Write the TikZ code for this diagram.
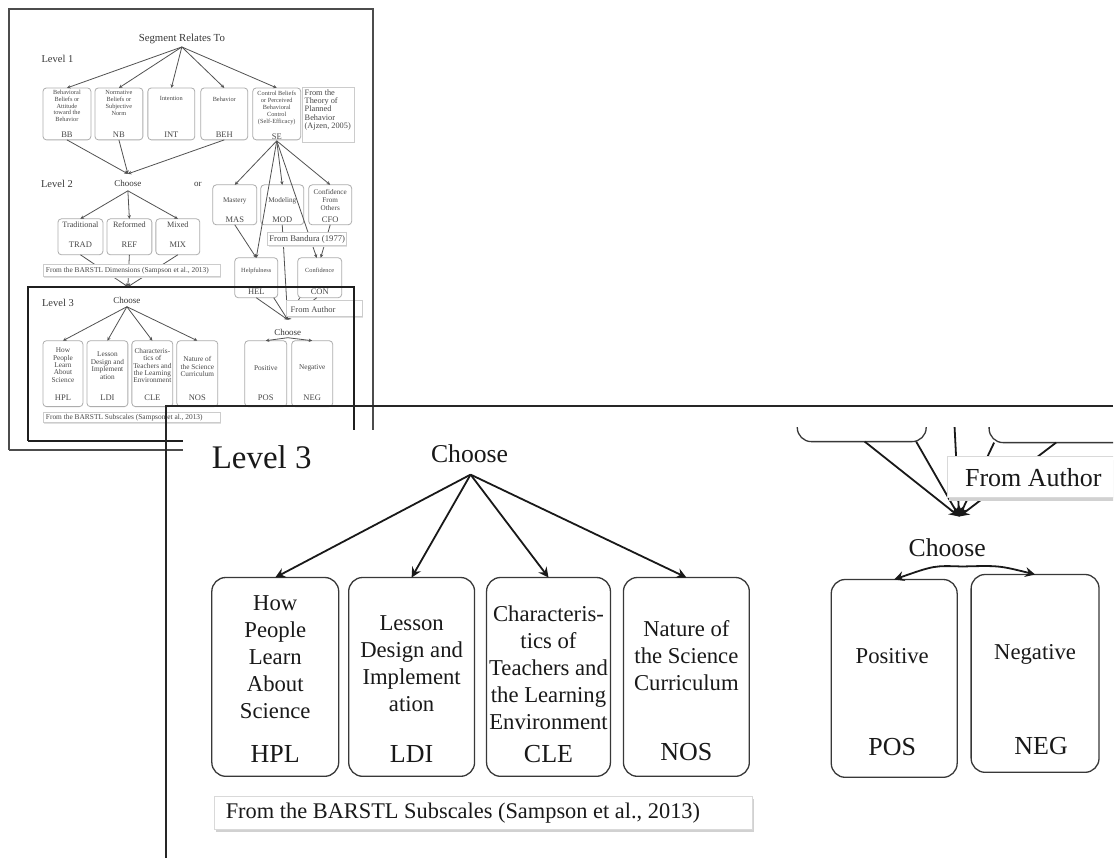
\documentclass[tikz,border=0pt]{standalone}
\usepackage{fontspec}
\setmainfont{Liberation Serif}
\usetikzlibrary{arrows.meta,calc,shadows}
\newcommand\setfs[2]{\fontsize{#1}{#2}\selectfont}

\begin{document}
\begin{tikzpicture}[x=1pt,y=-1pt,
  every node/.style={inner sep=0pt,outer sep=0pt},
  % thumbnail of the full page
  sbox/.style={draw=black!32,line width=0.8pt,rounded corners=3.5pt},
  stxt/.style={text=black!72,align=center,font=\setfs{6.3}{6.9}},
  smid/.style={text=black!72,align=center,font=\setfs{8.2}{8.5}},
  ssml/.style={text=black!72,align=center,font=\setfs{7.2}{8.2}},
  slow/.style={text=black!72,align=center,font=\setfs{7.3}{7.4}},
  scode/.style={text=black!72,font=\setfs{8.5}{9}},
  shead/.style={text=black!78,font=\setfs{9}{10}},
  slevel/.style={text=black!78,font=\setfs{10.5}{11}},
  scap/.style={draw=black!20,line width=0.6pt,fill=white,
    general shadow={fill=black!12,shadow xshift=0.8pt,shadow yshift=-1.2pt}},
  scaptxt/.style={text=black!72,font=\setfs{7.4}{8}},
  sarr/.style={draw=black!68,line width=0.8pt,-{Stealth[length=3.6pt,width=3.4pt]}},
  % magnified panel
  bbox/.style={draw=black!78,line width=1.3pt,rounded corners=14pt},
  btxt/.style={text=black!90,align=center,font=\setfs{22.7}{27}},
  bcode/.style={text=black!90,font=\setfs{26}{30}},
  bhead/.style={text=black!90,font=\setfs{25.7}{30}},
  bcap/.style={draw=black!15,line width=0.8pt,fill=white,
    general shadow={fill=black!18,shadow xshift=1.5pt,shadow yshift=-3pt}},
  bcaptxt/.style={text=black!90,font=\setfs{22.4}{26}},
  barr/.style={draw=black!90,line width=1.8pt,-{Stealth[length=10pt,width=10pt,inset=3.5pt]}},
  frame/.style={draw=black!70,line width=2pt},
]
\fill[white] (0,0) rectangle (1114,859);

%% ================= thumbnail: Level 1 =================
\node[font=\setfs{10.8}{12},text=black!78] (seg) at (182,39) {Segment Relates To};
\coordinate (segout) at (182,47);
\node[slevel] (lv1) at (57.5,59) {Level 1};

\node[sbox,minimum width=48pt,minimum height=52pt] (bb) at (67,114) {};
\node[sbox,minimum width=48pt,minimum height=52pt] (nb) at (119,114) {};
\node[sbox,minimum width=47pt,minimum height=52pt] (int) at (171.5,114) {};
\node[sbox,minimum width=47pt,minimum height=52pt] (beh) at (224.5,114) {};
\node[sbox,minimum width=48pt,minimum height=52pt] (se) at (277,114) {};

\node[stxt] (bbt) at (67,106) {Behavioral\\Beliefs or\\Attitude\\toward the\\Behavior};
\node[scode] (bbc) at (67,135) {BB};
\node[stxt] (nbt) at (119,103) {Normative\\Beliefs or\\Subjective\\Norm};
\node[scode] (nbc) at (119,135) {NB};
\node[stxt] (intt) at (171.5,99) {Intention};
\node[scode] (intc) at (171.5,135) {INT};
\node[stxt] (beht) at (224.5,99) {Behavior};
\node[scode] (behc) at (224.5,135) {BEH};
\node[stxt] (set) at (277,108) {Control Beliefs\\or Perceived\\Behavioral\\Control\\(Self-Efficacy)};
\node[scode] (sec) at (277,137) {SE};

\foreach \b in {bb,nb,int,beh,se} \draw[sarr] (segout) -- (\b.north);

\node[scap,minimum width=52pt,minimum height=55pt,anchor=north west] (tpb) at (303,87) {};
\node[text=black!72,align=left,font=\setfs{8.3}{8.4},anchor=north west] (tpbt) at (305,89.5)
  {From the\\Theory of\\Planned\\Behavior\\(Ajzen, 2005)};

%% ================= thumbnail: Level 2 =================
\node[slevel] (lv2) at (57,184) {Level 2};
\node[shead] (ch2) at (128,184) {Choose};
\node[shead] (ortxt) at (198,185) {or};
\coordinate (ch2in) at (128,174);
\coordinate (ch2out) at (128,191);
\draw[sarr] (bb.south) -- (ch2in);
\draw[sarr] (nb.south) -- (ch2in);
\draw[sarr] (beh.south) -- (ch2in);

\node[sbox,minimum width=45pt,minimum height=36pt] (trad) at (80.5,237) {};
\node[sbox,minimum width=45pt,minimum height=36pt] (ref) at (129.5,237) {};
\node[sbox,minimum width=44pt,minimum height=36pt] (mix) at (178,237) {};
\node[smid] (tradt) at (80.5,225) {Traditional};
\node[scode] (tradc) at (80.5,245) {TRAD};
\node[smid] (reft) at (129.5,225) {Reformed};
\node[scode] (refc) at (129.5,245) {REF};
\node[smid] (mixt) at (178,225) {Mixed};
\node[scode] (mixc) at (178,245) {MIX};
\foreach \b in {trad,ref,mix} \draw[sarr] (ch2out) -- (\b.north);

\coordinate (ch3in) at (128,287);
\foreach \b in {trad,ref,mix} \draw[sarr] (\b.south) -- (ch3in);
\node[scap,minimum width=177pt,minimum height=12pt] (dim) at (131.5,271) {};
\node[scaptxt,anchor=west] (dimt) at (46,271) {From the BARSTL Dimensions (Sampson et al., 2013)};

% self-efficacy branch
\node[sbox,minimum width=44pt,minimum height=40pt] (mas) at (235,205) {};
\node[sbox,minimum width=43pt,minimum height=40pt] (mod) at (282.5,205) {};
\node[sbox,minimum width=43pt,minimum height=40pt] (cfo) at (330.5,205) {};
\node[ssml] (mast) at (235,201) {Mastery};
\node[scode] (masc) at (235,220) {MAS};
\node[ssml] (modt) at (282.5,201) {Modeling};
\node[scode] (modc) at (282.5,220) {MOD};
\node[ssml] (cfot) at (330.5,200) {Confidence\\From\\Others};
\node[scode] (cfoc) at (330.5,220) {CFO};

\node[sbox,minimum width=43pt,minimum height=40pt] (hel) at (256.5,278) {};
\node[sbox,minimum width=44pt,minimum height=40pt] (con) at (320,278) {};
\node[stxt] (helt) at (256.5,271) {Helpfulness};
\node[scode] (helc) at (256.5,292) {HEL};
\node[stxt] (cont) at (320,271) {Confidence};
\node[scode] (conc) at (320,292) {CON};

\coordinate (seout) at (277,141);
\coordinate (rchin) at (288,320);
\draw[sarr] (seout) -- (mas.north);
\draw[sarr] (seout) -- (mod.north);
\draw[sarr] (seout) -- (cfo.north);
\draw[sarr] (seout) -- (hel.north);
\draw[sarr] (seout) -- ($(con.north)+(-3,0)$);
\draw[sarr] (mas.south) -- (hel.north);
\draw[sarr] (cfo.south) -- ($(con.north)+(1,0)$);
\draw[sarr] (mod.south) -- (rchin);
\draw[sarr] (hel.south) -- (rchin);
\draw[sarr] ($(hel.south east)+(-4,0)$) -- (rchin);
\draw[sarr] ($(con.south west)+(2,0)$) -- (rchin);
\draw[sarr] ($(con.south)+(-3,0)$) -- (rchin);

\node[scap,minimum width=79pt,minimum height=13pt] (band) at (307.5,239.5) {};
\node[font=\setfs{8.7}{9},text=black!72] (bandt) at (307.5,239.5) {From Bandura (1977)};
\node[scap,minimum width=76pt,minimum height=16pt,anchor=north west] (auth) at (287,301) {};
\node[font=\setfs{8.5}{9},text=black!72,anchor=west] (autht) at (291,309.5) {From Author};

%% ================= thumbnail: Level 3 =================
\node[slevel] (lv3) at (58,303) {Level 3};
\node[shead] (ch3) at (127,301) {Choose};
\coordinate (ch3out) at (127,307);

\node[sbox,minimum width=40pt,minimum height=66pt] (hpl) at (63,374) {};
\node[sbox,minimum width=41pt,minimum height=66pt] (ldi) at (107.5,374) {};
\node[sbox,minimum width=41pt,minimum height=66pt] (cle) at (152.5,374) {};
\node[sbox,minimum width=41pt,minimum height=66pt] (nos) at (197.5,374) {};
\node[slow] (hplt) at (63,365.5) {How\\People\\Learn\\About\\Science};
\node[scode] (hplc) at (63,398) {HPL};
\node[slow] (ldit) at (107.5,366) {Lesson\\Design and\\Implement\\ation};
\node[scode] (ldic) at (107.5,398) {LDI};
\node[slow] (clet) at (152.5,366) {Characteris-\\tics of\\Teachers and\\the Learning\\Environment};
\node[scode] (clec) at (152.5,398) {CLE};
\node[slow] (nost) at (197.5,367) {Nature of\\the Science\\Curriculum};
\node[scode] (nosc) at (197.5,398) {NOS};
\foreach \b in {hpl,ldi,cle,nos} \draw[sarr] (ch3out) -- (\b.north);

\node[sbox,minimum width=42pt,minimum height=66pt] (pos) at (266,374) {};
\node[sbox,minimum width=41pt,minimum height=66pt] (neg) at (312.5,374) {};
\node[slow] (post) at (266,368) {Positive};
\node[scode] (posc) at (266,398) {POS};
\node[slow] (negt) at (312.5,368) {Negative};
\node[scode] (negc) at (312.5,398) {NEG};
\node[shead] (rch) at (288,333) {Choose};
\coordinate (rchout) at (288,338);
\draw[sarr] (rchout) -- (pos.north);
\draw[sarr] (rchout) -- (neg.north);

\node[scap,minimum width=177pt,minimum height=10pt] (sub) at (131.5,418) {};
\node[scaptxt,anchor=west] (subt) at (46,418) {From the BARSTL Subscales (Sampson et al., 2013)};

%% ================= magnified Level 3 panel =================
\begin{scope}
\clip (168,428) rectangle (1114,859);
% bottoms of the Helpfulness and Confidence boxes
\node[bbox,minimum width=129pt,minimum height=150pt,anchor=south] (helbig) at (862.5,442) {};
\node[bbox,minimum width=140pt,minimum height=150pt,anchor=south west] (conbig) at (990,443) {};
\coordinate (modbig) at (953,380);
\coordinate (bigin) at (960,517);
\draw[barr] ($(helbig.south)+(3,0)$) -- (bigin);
\draw[barr] ($(helbig.south east)+(-10,0)$) -- (bigin);
\draw[barr] (modbig) -- (bigin);
\draw[barr] ($(conbig.south west)+(5,0)$) -- (bigin);
\draw[barr] ($(conbig.south west)+(67,0)$) -- (bigin);
\node[bcap,minimum width=190pt,minimum height=41pt,anchor=north west] (authbig) at (948,457) {};
\node[font=\setfs{26}{30},text=black!90,anchor=west] (authbigt) at (966,478) {From Author};
\end{scope}

\node[font=\setfs{33}{38},text=black!90,anchor=west] (lv3big) at (212,458) {Level 3};
\node[bhead] (ch3big) at (470,454) {Choose};
\coordinate (ch3bigout) at (471,475);

\node[bbox,minimum width=127pt,minimum height=199pt] (hplbig) at (275.5,677.5) {};
\node[bbox,minimum width=126pt,minimum height=199pt] (ldibig) at (412,677.5) {};
\node[bbox,minimum width=124pt,minimum height=199pt] (clebig) at (549,677.5) {};
\node[bbox,minimum width=126pt,minimum height=199pt] (nosbig) at (687,677.5) {};
\node[btxt] (hplbigt) at (275.5,658) {How\\People\\Learn\\About\\Science};
\node[bcode] (hplbigc) at (275.5,755) {HPL};
\node[btxt] (ldibigt) at (412,664) {Lesson\\Design and\\Implement\\ation};
\node[bcode] (ldibigc) at (412,755) {LDI};
\node[btxt] (clebigt) at (549,668) {Characteris-\\tics of\\Teachers and\\the Learning\\Environment};
\node[bcode] (clebigc) at (549,755) {CLE};
\node[btxt] (nosbigt) at (687,656) {Nature of\\the Science\\Curriculum};
\node[bcode] (nosbigc) at (687,753) {NOS};
\foreach \b in {hplbig,ldibig,clebig,nosbig} \draw[barr] (ch3bigout) -- (\b.north);

\node[bcap,minimum width=538pt,minimum height=33pt] (subbig) at (484,813.5) {};
\node[bcaptxt,anchor=west] (subbigt) at (226,814) {From the BARSTL Subscales (Sampson et al., 2013)};

\node[bhead] (rchbig) at (948,548) {Choose};
\node[bbox,minimum width=126pt,minimum height=198pt] (posbig) at (895,679) {};
\node[bbox,minimum width=128pt,minimum height=198pt] (negbig) at (1036,674) {};
\node[btxt] (posbigt) at (893,657) {Positive};
\node[bcode] (posbigc) at (893,748) {POS};
\node[btxt] (negbigt) at (1036,655) {Negative};
\node[bcode] (negbigc) at (1042,747) {NEG};
\coordinate (rchbigout) at (963,567);
\draw[barr] (rchbigout) .. controls (935,566) .. (posbig.north);
\draw[barr] (rchbigout) .. controls (1000,566) .. (negbig.north);

%% ================= frames =================
\draw[frame] (9,450) -- (9,9) -- (373,9) -- (373,430);
\draw[frame] (9,450) -- (183,450);
\draw[frame,draw=black!88] (28,441) -- (28,287) -- (354,287) -- (354,430);
\draw[frame,draw=black!88] (28,441) -- (183,441);
\draw[frame,draw=black!85] (1114,406) -- (166,406) -- (166,859);
\end{tikzpicture}
\end{document}
